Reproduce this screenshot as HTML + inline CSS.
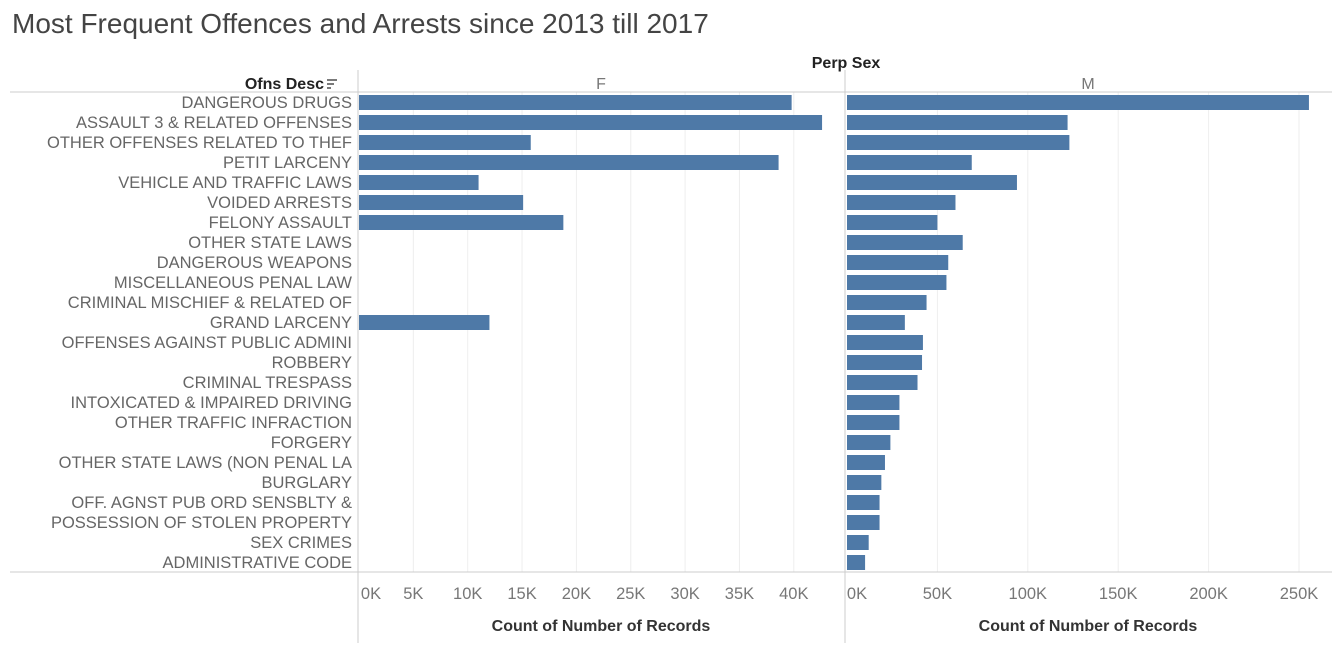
<!DOCTYPE html>
<html><head><meta charset="utf-8"><style>
body{margin:0;background:#fff;width:1342px;height:659px;overflow:hidden;font-family:"Liberation Sans",sans-serif;}
</style></head><body>
<svg id="chart" width="1342" height="659" xmlns="http://www.w3.org/2000/svg" font-family="Liberation Sans, sans-serif">
<text x="12" y="33" font-size="28" fill="#444">Most Frequent Offences and Arrests since 2013 till 2017</text>
<text x="846" y="68" font-size="16" font-weight="bold" text-anchor="middle" fill="#222">Perp Sex</text>
<text x="324" y="89" font-size="16" font-weight="bold" text-anchor="end" fill="#222">Ofns Desc</text>
<g stroke="#333" stroke-width="1.3"><line x1="327" y1="80" x2="337" y2="80"/><line x1="327" y1="84" x2="334" y2="84"/><line x1="327" y1="88" x2="331" y2="88"/></g>
<text x="601" y="89" font-size="16" text-anchor="middle" fill="#777">F</text>
<text x="1088" y="89" font-size="16" text-anchor="middle" fill="#777">M</text>
<g id="grid"></g>
<line x1="10" y1="92" x2="1332" y2="92" stroke="#ccc"/>
<line x1="10" y1="572" x2="1332" y2="572" stroke="#ccc"/>
<line x1="358" y1="70" x2="358" y2="643" stroke="#ccc"/>
<line x1="845" y1="70" x2="845" y2="643" stroke="#ccc"/>
<g id="bars"></g>
<g id="labels"></g>
<text x="601" y="631" font-size="16" font-weight="bold" text-anchor="middle" fill="#333">Count of Number of Records</text>
<text x="1088" y="631" font-size="16" font-weight="bold" text-anchor="middle" fill="#333">Count of Number of Records</text>
</svg>
<script>
const categories=["DANGEROUS DRUGS","ASSAULT 3 & RELATED OFFENSES","OTHER OFFENSES RELATED TO THEF","PETIT LARCENY","VEHICLE AND TRAFFIC LAWS","VOIDED ARRESTS","FELONY ASSAULT","OTHER STATE LAWS","DANGEROUS WEAPONS","MISCELLANEOUS PENAL LAW","CRIMINAL MISCHIEF & RELATED OF","GRAND LARCENY","OFFENSES AGAINST PUBLIC ADMINI","ROBBERY","CRIMINAL TRESPASS","INTOXICATED & IMPAIRED DRIVING","OTHER TRAFFIC INFRACTION","FORGERY","OTHER STATE LAWS (NON PENAL LA","BURGLARY","OFF. AGNST PUB ORD SENSBLTY &","POSSESSION OF STOLEN PROPERTY","SEX CRIMES","ADMINISTRATIVE CODE"];
const femaleValues=[39800,42600,15800,38600,11000,15100,18800,0,0,0,0,12000,0,0,0,0,0,0,0,0,0,0,0,0];
const maleValues=[255500,122000,123000,69000,94000,60000,50000,64000,56000,55000,44000,32000,42000,41500,39000,29000,29000,24000,21000,19000,18000,18000,12000,10000];
const femaleTicks=[0,5000,10000,15000,20000,25000,30000,35000,40000];
const maleTicks=[0,50000,100000,150000,200000,250000];
const NS="http://www.w3.org/2000/svg";
const xF=v=>359+v*10.87/1000;
const xM=v=>847+v*1.808/1000;
const rowY=i=>92+i*20;
function mk(tag,attrs,parent){const e=document.createElementNS(NS,tag);for(const k in attrs)e.setAttribute(k,attrs[k]);document.getElementById(parent).appendChild(e);return e;}
function fmt(v){return (v/1000)+"K";}
femaleTicks.forEach((t,i)=>{
  if(i>0){const g=mk("line",{x1:xF(t),x2:xF(t),y1:92,y2:572,stroke:"#eee"},"grid");
  
  }
  const tx=mk("text",{x:i==0?xF(t)+12:xF(t),y:599,"font-size":16.5,"text-anchor":"middle",fill:"#777"},"labels");
  tx.textContent=fmt(t);
  
  
});
maleTicks.forEach((t,i)=>{
  if(i>0){const g=mk("line",{x1:xM(t),x2:xM(t),y1:92,y2:572,stroke:"#eee"},"grid");
  
  }
  const tx=mk("text",{x:i==0?xM(t)+10:xM(t),y:599,"font-size":16.5,"text-anchor":"middle",fill:"#777"},"labels");
  tx.textContent=fmt(t);
  
  
});
categories.forEach((c,i)=>{
  const y=rowY(i);
  const l=mk("text",{x:352,y:y+16,"font-size":16.5,"text-anchor":"end",fill:"#666"},"labels");
  l.textContent=c;
  
  
  if(femaleValues[i]>0){
    const b=mk("rect",{x:xF(0),y:y+3,width:xF(femaleValues[i])-xF(0),height:15,fill:"#4e79a7"},"bars");
    
    
  }
  const b2=mk("rect",{x:xM(0),y:y+3,width:xM(maleValues[i])-xM(0),height:15,fill:"#4e79a7"},"bars");
  
  
});
</script>
</body></html>
